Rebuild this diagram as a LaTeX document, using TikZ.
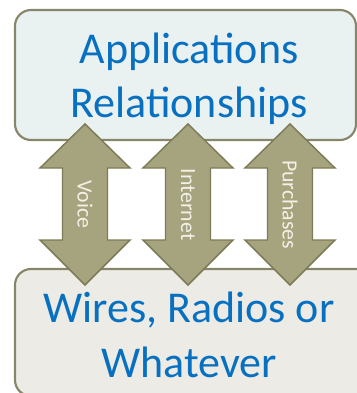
\documentclass[tikz,border=0pt]{standalone}
\usepackage{fontspec}
\setmainfont{Carlito}
\definecolor{textblue}{HTML}{0870C0}
\definecolor{boxline}{HTML}{88866A}
\definecolor{topfill}{HTML}{E9F1F1}
\definecolor{botfill}{HTML}{EDEBE6}
\definecolor{arrowfill}{HTML}{A6A47E}
\definecolor{arrowline}{HTML}{7E7B58}
\definecolor{arrowtext}{HTML}{F3F1E6}
\tikzset{
  layerbox/.style={draw=boxline, line width=1.6pt, rounded corners=12pt},
  layertext/.style={text=textblue, font=\fontsize{33}{40}\selectfont, anchor=base, inner sep=0pt},
  flowarrow/.style={fill=arrowfill, draw=arrowline, line width=1.1pt, line join=miter},
  flowlabel/.style={text=arrowtext, font=\fontsize{16.3}{19}\selectfont, rotate=-90, inner sep=0pt},
}
% a vertical double-headed arrow centred on x = #1 (pixel units)
\newcommand{\twowayarrow}[1]{%
  \path[flowarrow] (#1,124) -- (#1+45,168) -- (#1+22.5,168) -- (#1+22.5,240)
    -- (#1+45,240) -- (#1,285) -- (#1-45,240) -- (#1-22.5,240)
    -- (#1-22.5,168) -- (#1-45,168) -- cycle;}
\begin{document}
\begin{tikzpicture}[x=0.75pt, y=-0.75pt]
  \useasboundingbox (0,0) rectangle (357,393);
  % upper layer
  \path[layerbox, fill=topfill] (15,10) rectangle (356,140);
  % lower layer (runs past the lower edge)
  \path[layerbox, fill=botfill] (15,269) rectangle (372,396);
  % flows between the layers
  \twowayarrow{85}
  \twowayarrow{188}
  \twowayarrow{290}
  \node[flowlabel] (voice) at (85,204.5) {Voice};
  \node[flowlabel] (internet) at (188,204.5) {Internet};
  \node[flowlabel] (purchases) at (290,204.5) {Purchases};
  % layer titles
  \node[layertext] (app) at (189,63) {Applications};
  \node[layertext] (rel) at (189,117) {Relationships};
  \node[layertext] (wires) at (189,322) {Wires, Radios or};
  \node[layertext] (whatever) at (189,377) {Whatever};
\end{tikzpicture}
\end{document}
